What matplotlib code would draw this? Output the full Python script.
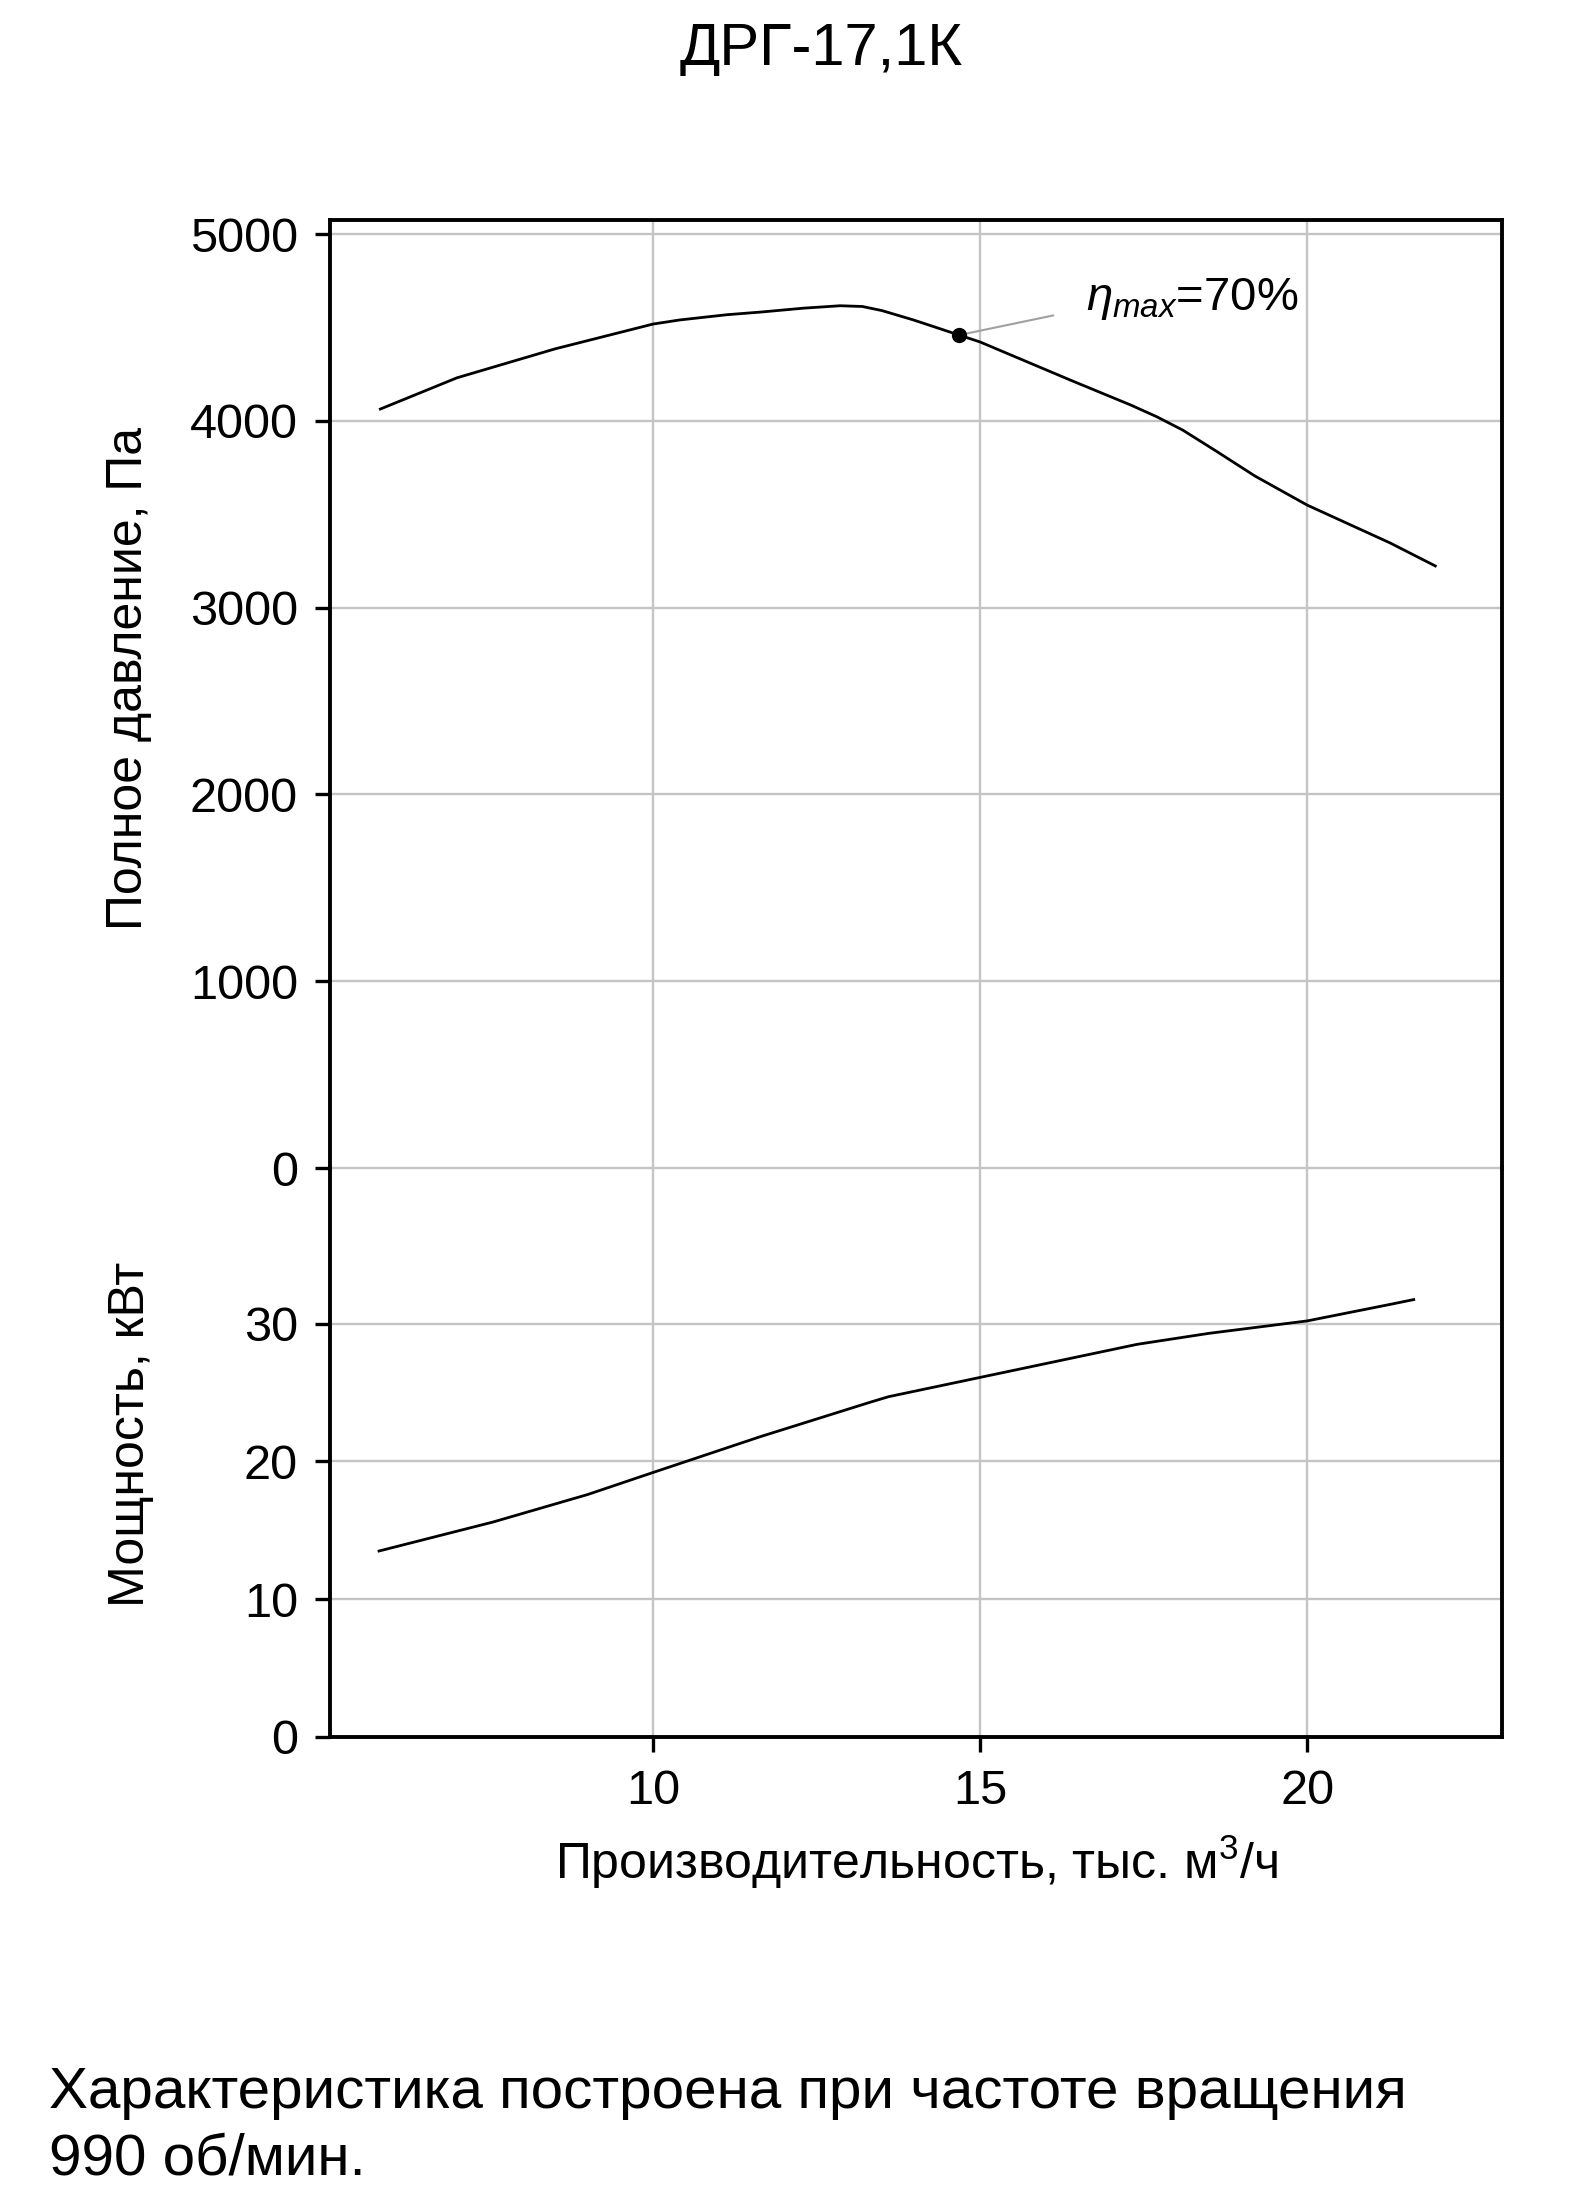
import matplotlib
matplotlib.use("Agg")
import matplotlib.pyplot as plt

plt.rcParams['font.family'] = ['Liberation Sans', 'DejaVu Sans']
plt.rcParams['mathtext.fontset'] = 'custom'
plt.rcParams['mathtext.rm'] = 'Liberation Sans'
plt.rcParams['mathtext.it'] = 'Liberation Sans:italic'

# ---- data ----
flow_p = [5.83, 7.0, 8.5, 10.0, 10.41, 11.13, 11.64, 12.3, 12.86, 13.2, 13.5, 13.98, 14.68, 15.0,
          16.38, 17.3, 17.7, 18.1, 18.6, 19.2, 20.0, 21.27, 21.96]
pressure = [4063, 4230, 4385, 4518, 4540, 4568, 4582, 4603, 4616, 4612, 4590, 4540, 4459, 4422,
            4218, 4085, 4022, 3950, 3840, 3705, 3549, 3346, 3223]

flow_n = [5.81, 7.55, 9.0, 10.0, 11.64, 13.32, 13.6, 15.0, 17.4, 18.5, 20.0, 21.27, 21.63]
power = [13.5, 15.6, 17.6, 19.2, 21.8, 24.3, 24.7, 26.1, 28.5, 29.3, 30.2, 31.4, 31.75]

eta_flow = 14.68
eta_pressure = 4459
eta_label = r'$\eta_{max}$=70%'

p_ticks = [0, 1000, 2000, 3000, 4000, 5000]
n_ticks = [0, 10, 20, 30]
x_ticks = [10, 15, 20]

title = 'ДРГ-17,1К'
ylabel_p = 'Полное давление, Па'
ylabel_n = 'Мощность, кВт'
xlabel = 'Производительность, тыс. м$^3$/ч'
note = 'Характеристика построена при частоте вращения\n990 об/мин.'

# ---- figure ----
W, H = 1588, 2193
fig = plt.figure(figsize=(W / 100, H / 100), dpi=100)

left = 330 / W
width = (1502 - 330) / W
top_px, mid_px, bot_px = 220, 1168, 1737
ax_p = fig.add_axes([left, 1 - mid_px / H, width, (mid_px - top_px) / H])
ax_n = fig.add_axes([left, 1 - bot_px / H, width, (bot_px - mid_px) / H], sharex=ax_p)

grid_color = '#c4c4c4'
for ax in (ax_p, ax_n):
    ax.set_facecolor('none')
    ax.grid(True, color=grid_color, lw=1.7)
    ax.set_axisbelow(True)
    for s in ax.spines.values():
        s.set_linewidth(2.8)
        s.set_color('black')
    ax.tick_params(axis='both', direction='out', length=11, width=2.4,
                   labelsize=35, pad=12, colors='black')

ax_p.spines['bottom'].set_visible(False)
ax_n.spines['top'].set_visible(False)

ax_p.set_xlim(5.06, 22.98)
ax_p.set_ylim(0, 5075)
ax_n.set_ylim(0, 41.3)

ax_p.set_yticks(p_ticks)
ax_n.set_yticks(n_ticks)
ax_n.set_xticks(x_ticks)
ax_p.tick_params(axis='x', length=0, labelbottom=False)
for gl in ax_p.get_ygridlines():
    gl.set_clip_on(False)

ax_p.plot(flow_p, pressure, color='black', lw=2.0, zorder=3, solid_joinstyle='round')
ax_n.plot(flow_n, power, color='black', lw=2.0, zorder=3, solid_joinstyle='round')

ax_p.plot([eta_flow], [eta_pressure], 'o', color='black', ms=10, zorder=4)
ax_p.annotate(eta_label, xy=(eta_flow, eta_pressure), xytext=(16.62, 4650),
              fontsize=34, va='center', ha='left',
              arrowprops=dict(arrowstyle='-', color='#a0a0a0', lw=1.5,
                              shrinkA=22, shrinkB=4,
                              relpos=(0, 0.3)))

ax_p.set_ylabel(ylabel_p, fontsize=36)
ax_p.yaxis.set_label_coords(-0.152, 0.516)
ax_n.set_ylabel(ylabel_n, fontsize=36)
ax_n.yaxis.set_label_coords(-0.150, 0.532)
ax_n.set_xlabel(xlabel, fontsize=36, labelpad=14)

fig.text(821 / W, 1 - 50 / H, title, fontsize=43, ha='center', va='center')
fig.text(49 / W, 1 - 2126 / H, note, fontsize=42, ha='left', va='center',
         linespacing=1.3)

fig.savefig('out.png', dpi=100, facecolor='white')
